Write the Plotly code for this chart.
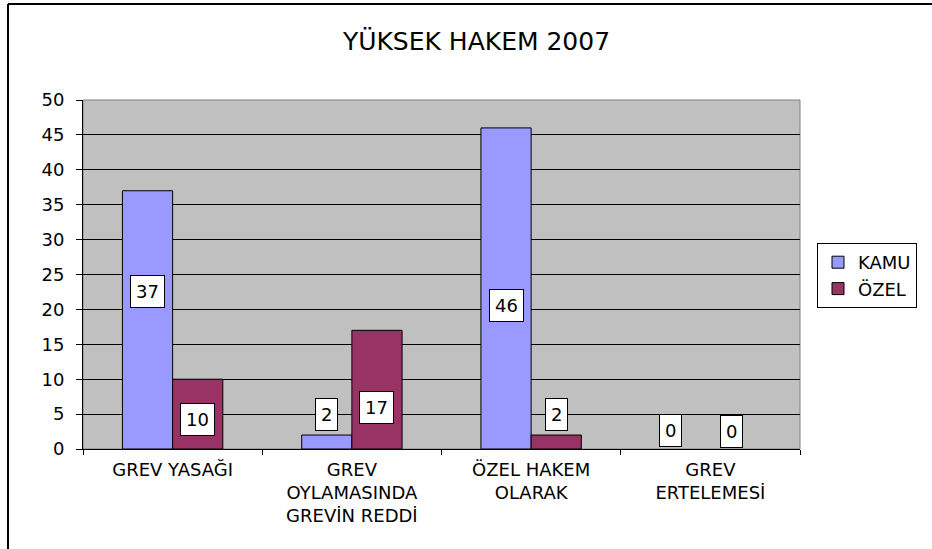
import plotly.graph_objects as go

categories = ["GREV YASAĞI", "GREV<br>OYLAMASINDA<br>GREVİN REDDİ", "ÖZEL HAKEM<br>OLARAK", "GREV<br>ERTELEMESİ"]
kamu = [37, 2, 46, 0]
ozel = [10, 17, 2, 0]
series_names = ["KAMU", "ÖZEL"]
# placement of Excel's data label boxes (vertical anchor in axis units, horizontal offset in px)
label_y_kamu = [22.5, 5.0, 20.6, 2.6]
label_y_ozel = [4.2, 6.0, 5.0, 2.5]
label_dx_kamu = [-25, -25, -25, -40]
label_dx_ozel = [25, 25, 25, 21]

FONT = "DejaVu Sans, Verdana, sans-serif"
colors = ["#9999FF", "#993366"]

fig = go.Figure()
for name, vals, col in zip(series_names, [kamu, ozel], colors):
    fig.add_trace(go.Bar(
        x=categories, y=vals, name=name, legendgroup=name,
        marker=dict(color=col, line=dict(color="black", width=[1 if v > 0 else 0 for v in vals])),
    ))

annotations = []
for vals, ys, dxs in [(kamu, label_y_kamu, label_dx_kamu), (ozel, label_y_ozel, label_dx_ozel)]:
    for c, v, yy, dx in zip(categories, vals, ys, dxs):
        annotations.append(dict(
            x=c, y=yy, xref="x", yref="y", text=str(v), showarrow=False,
            xshift=dx, font=dict(family=FONT, size=18, color="black"),
            bgcolor="white", bordercolor="black", borderwidth=1, borderpad=5,
        ))

x0 = 83; x1 = 800; y0 = 100; y1 = 449
W = 932; H = 549
def px_x(p):
    return (p - x0) / (x1 - x0)
def px_y(p):
    return (y1 - p) / (y1 - y0)

shapes = [
    dict(type="line", xref="paper", yref="paper", x0=px_x(8), x1=px_x(8), y0=px_y(4), y1=px_y(549),
         line=dict(color="black", width=2)),
    dict(type="line", xref="paper", yref="paper", x0=px_x(8), x1=px_x(932), y0=px_y(4), y1=px_y(4),
         line=dict(color="black", width=2)),
    dict(type="rect", xref="paper", yref="paper", x0=0, x1=1, y0=0, y1=1,
         line=dict(color="#808080", width=1), layer="below"),
]

fig.update_layout(
    width=W, height=H,
    margin=dict(l=x0, r=W - x1, t=y0, b=H - y1),
    paper_bgcolor="white", plot_bgcolor="#C0C0C0",
    barmode="group", bargap=0.44, bargroupgap=0,
    title=dict(text="YÜKSEK HAKEM 2007", x=(333 + 620) / 2 / W, xanchor="center",
               y=1 - 41 / H, yanchor="middle",
               font=dict(family=FONT, size=25, color="black")),
    font=dict(family=FONT, size=18, color="black"),
    legend=dict(x=px_x(817), y=px_y(243), xanchor="left", yanchor="top",
                bgcolor="white", bordercolor="black", borderwidth=1,
                font=dict(family=FONT, size=18, color="black"),
                itemwidth=30, tracegroupgap=0),
    annotations=annotations, shapes=shapes,
    showlegend=True,
)
fig.update_yaxes(range=[0, 50], dtick=5, showgrid=True, gridcolor="black", gridwidth=1,
                 showline=True, linecolor="black", linewidth=1, ticks="outside", ticklen=6,
                 tickcolor="black", tickfont=dict(family=FONT, size=18), zeroline=False,
                 ticklabelstandoff=8)
fig.update_xaxes(showline=True, linecolor="black", linewidth=1, ticks="outside", ticklen=5,
                 tickcolor="black", tickson="boundaries", tickfont=dict(family=FONT, size=18),
                 showgrid=False, ticklabelstandoff=4)

fig.write_html("out.html", config={"displayModeBar": False},
               post_script="document.body.style.margin='0';")
